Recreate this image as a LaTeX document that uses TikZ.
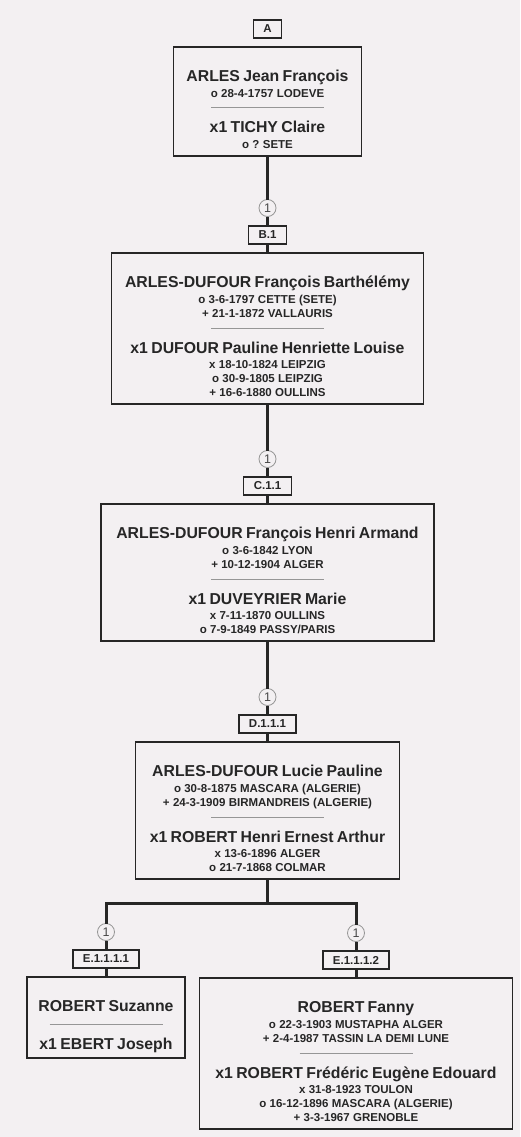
\documentclass[tikz,border=0pt]{standalone}
\usepackage{fontspec}
\setmainfont{Liberation Sans}
\usetikzlibrary{positioning}
\frenchspacing

\definecolor{fond}{RGB}{243,240,242}
\definecolor{encre}{RGB}{38,38,38}
\definecolor{filet}{RGB}{150,150,150}

\newcommand\haut{\offinterlineskip\rule{0pt}{14.5pt}\par}
\newcommand\nom[1]{\rule[-4.5pt]{0pt}{20pt}{\fontsize{15.8}{18}\selectfont #1}\par}
\newcommand\ev[1]{\rule[-2.85pt]{0pt}{14pt}{\fontsize{11.5}{14}\selectfont #1}\par}
\newcommand\trait{\rule[-9.5pt]{0pt}{17.5pt}{\color{filet}\rule[-.5pt]{113pt}{1pt}}\par}

\begin{document}
\begin{tikzpicture}[x=1pt, y=-1pt,
every node/.style={text=encre, font=\bfseries, outer sep=0pt},
fiche/.style={draw=encre, line width=1.6pt, inner xsep=0pt, inner ysep=4.5pt, align=center, anchor=north},
repere/.style={draw=encre, line width=1.4pt, minimum height=18pt, inner xsep=10pt, inner ysep=0pt,
    font={\fontsize{11.5}{14}\selectfont\bfseries}, above=9pt of #1},
rond/.style={circle, draw=filet, line width=.8pt, fill=fond, minimum size=17pt, inner sep=0pt,
    text=encre!85, font={\fontsize{12.5}{13}\selectfont}, above=9.5pt of #1},
lien/.style={draw=encre, line width=3pt}
]
\fill[fond] (0,0) rectangle (520,1137);

\node[fiche, text width=188pt] (ficheA) at (267.5,47) {\haut
    \nom{ARLES Jean François}\ev{o 28-4-1757 LODEVE}\trait
    \nom{x1 TICHY Claire}\ev{o ? SETE}};
\node[fiche, text width=312pt] (ficheB) at (267.5,253) {\haut
    \nom{ARLES-DUFOUR François Barthélémy}\ev{o 3-6-1797 CETTE (SETE)}\ev{+ 21-1-1872 VALLAURIS}\trait
    \nom{x1 DUFOUR Pauline Henriette Louise}\ev{x 18-10-1824 LEIPZIG}\ev{o 30-9-1805 LEIPZIG}\ev{+ 16-6-1880 OULLINS}};
\node[fiche, text width=333pt] (ficheC) at (267.5,504) {\haut
    \nom{ARLES-DUFOUR François Henri Armand}\ev{o 3-6-1842 LYON}\ev{+ 10-12-1904 ALGER}\trait
    \nom{x1 DUVEYRIER Marie}\ev{x 7-11-1870 OULLINS}\ev{o 7-9-1849 PASSY/PARIS}};
\node[fiche, text width=264pt] (ficheD) at (267.5,742) {\haut
    \nom{ARLES-DUFOUR Lucie Pauline}\ev{o 30-8-1875 MASCARA (ALGERIE)}\ev{+ 24-3-1909 BIRMANDREIS (ALGERIE)}\trait
    \nom{x1 ROBERT Henri Ernest Arthur}\ev{x 13-6-1896 ALGER}\ev{o 21-7-1868 COLMAR}};
\node[fiche, text width=158pt] (ficheE1) at (106,977) {\haut
    \nom{ROBERT Suzanne}\trait
    \nom{x1 EBERT Joseph}};
\node[fiche, text width=313pt] (ficheE2) at (356,978) {\haut
    \nom{ROBERT Fanny}\ev{o 22-3-1903 MUSTAPHA ALGER}\ev{+ 2-4-1987 TASSIN LA DEMI LUNE}\trait
    \nom{x1 ROBERT Frédéric Eugène Edouard}\ev{x 31-8-1923 TOULON}\ev{o 16-12-1896 MASCARA (ALGERIE)}\ev{+ 3-3-1967 GRENOBLE}};

\node[repere=ficheA] (repA) {A};
\foreach \i/\j in {B/B.1, C/C.1.1, D/D.1.1.1, E1/E.1.1.1.1, E2/E.1.1.1.2}{
    \node[repere=fiche\i] (rep\i) {\j};
    \node[rond=rep\i] (rond\i) {1};
}

\foreach \i/\j in {A/B, B/C, C/D}
    \draw[lien] (fiche\i) -- (rond\j) -- (rep\j) -- (fiche\j);

\coordinate (fourche) at (267.5,903);
\draw[lien] (ficheD) -- (fourche);
\foreach \j in {E1, E2}
    \draw[lien] (fourche) -| (rond\j) (rond\j) -- (rep\j) -- (fiche\j);
\end{tikzpicture}
\end{document}
